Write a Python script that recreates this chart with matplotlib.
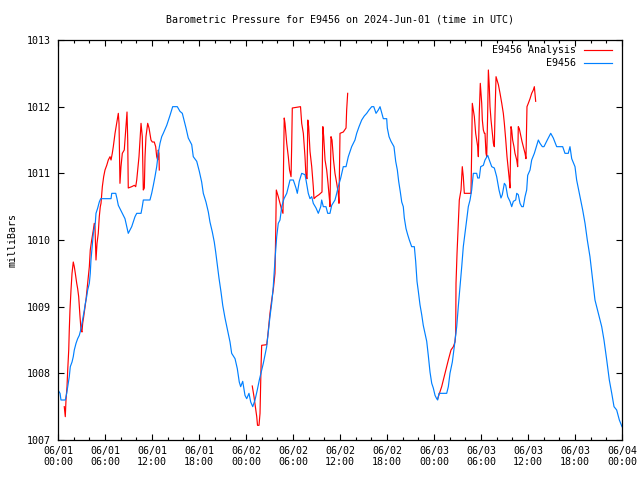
import numpy as np
import matplotlib
matplotlib.use("Agg")
import matplotlib.pyplot as plt
from matplotlib.lines import Line2D
from matplotlib.ticker import MultipleLocator

# hours since 2024-06-01 00:00 UTC
obs_hours = [0.0, 0.26, 0.38, 0.93, 1.11, 1.44, 1.57, 1.79, 1.95, 2.08, 2.3, 2.51, 2.72, 2.94, 3.06,
             3.36, 3.49, 3.66, 3.79, 4.0, 4.12, 4.21, 4.51, 4.76, 4.85, 5.07, 5.27, 5.45, 6.77, 6.86,
             7.37, 7.53, 7.7, 8.13, 8.55, 8.97, 9.19, 9.41, 9.83, 10.05, 10.6, 10.76, 10.89, 11.74,
             11.96, 12.17, 12.38, 12.6, 12.8, 13.02, 13.24, 13.44, 13.88, 14.3, 14.64, 15.23, 15.57,
             15.87, 16.34, 16.63, 17.07, 17.27, 17.71, 18.04, 18.34, 18.55, 18.89, 19.19, 19.4, 19.7,
             19.95, 20.13, 20.34, 20.55, 20.81, 21.03, 21.32, 21.61, 21.96, 22.17, 22.6, 22.89, 23.14,
             23.32, 23.58, 23.87, 24.09, 24.38, 24.6, 24.86, 25.15, 25.44, 25.7, 26.21, 26.64, 27.06,
             27.28, 27.48, 27.7, 27.92, 28.12, 28.34, 28.56, 28.85, 29.2, 29.62, 30.04, 30.38, 30.55,
             30.8, 31.11, 31.53, 31.66, 31.95, 32.17, 32.39, 32.59, 32.94, 33.23, 33.54, 33.66, 33.87,
             34.21, 34.43, 34.72, 34.94, 35.36, 35.58, 35.78, 36.09, 36.42, 36.77, 37.06, 37.49, 37.91,
             38.13, 38.43, 38.77, 39.1, 39.41, 39.7, 40.05, 40.31, 40.6, 40.89, 41.11, 41.23, 41.53,
             41.96, 42.04, 42.26, 42.51, 42.89, 43.11, 43.32, 43.49, 43.7, 43.88, 44.08, 44.21, 44.43,
             44.64, 44.85, 45.15, 45.49, 45.66, 45.83, 46.0, 46.21, 46.43, 46.63, 46.85, 47.07, 47.27,
             47.49, 47.71, 47.91, 48.13, 48.34, 48.47, 48.64, 49.62, 49.83, 50.04, 50.34, 50.59, 50.9,
             51.1, 51.32, 51.54, 51.74, 51.96, 52.17, 52.38, 52.6, 52.81, 53.02, 53.45, 53.58, 53.78,
             53.96, 54.3, 54.51, 54.86, 55.06, 55.37, 55.7, 56.0, 56.3, 56.55, 56.72, 56.98, 57.16,
             57.41, 57.7, 57.92, 58.13, 58.43, 58.56, 58.76, 58.98, 59.2, 59.4, 59.62, 59.83, 59.96,
             60.26, 60.47, 60.81, 61.11, 61.32, 61.53, 61.83, 62.04, 62.46, 62.9, 63.23, 63.66, 64.43,
             64.72, 65.14, 65.36, 65.58, 66.0, 66.21, 66.55, 66.98, 67.28, 67.57, 67.91, 68.26, 68.55,
             68.98, 69.41, 69.7, 70.05, 70.38, 70.69, 70.98, 71.32, 71.66, 72.0]
obs_mb = [1007.75, 1007.7, 1007.6, 1007.6, 1007.7, 1007.95, 1008.1, 1008.17, 1008.25, 1008.35, 1008.45,
          1008.52, 1008.57, 1008.67, 1008.75, 1008.95, 1009.05, 1009.15, 1009.25, 1009.35, 1009.5,
          1009.7, 1010.1, 1010.25, 1010.4, 1010.48, 1010.57, 1010.62, 1010.62, 1010.7, 1010.7,
          1010.62, 1010.52, 1010.42, 1010.32, 1010.1, 1010.15, 1010.2, 1010.35, 1010.4, 1010.4,
          1010.5, 1010.6, 1010.6, 1010.7, 1010.82, 1010.95, 1011.1, 1011.3, 1011.45, 1011.55,
          1011.6, 1011.72, 1011.87, 1012.0, 1012.0, 1011.93, 1011.9, 1011.68, 1011.53, 1011.43,
          1011.25, 1011.18, 1011.03, 1010.87, 1010.7, 1010.57, 1010.42, 1010.27, 1010.12, 1009.97,
          1009.82, 1009.62, 1009.43, 1009.22, 1009.02, 1008.83, 1008.67, 1008.47, 1008.3, 1008.22,
          1008.07, 1007.87, 1007.8, 1007.88, 1007.67, 1007.62, 1007.7, 1007.57, 1007.5, 1007.6,
          1007.75, 1007.9, 1008.15, 1008.4, 1008.85, 1009.05, 1009.3, 1009.7, 1010.05, 1010.25,
          1010.3, 1010.5, 1010.62, 1010.7, 1010.9, 1010.9, 1010.78, 1010.7, 1010.88, 1011.0, 1010.98,
          1010.9, 1010.7, 1010.62, 1010.65, 1010.55, 1010.48, 1010.4, 1010.5, 1010.6, 1010.5, 1010.5,
          1010.4, 1010.4, 1010.52, 1010.6, 1010.7, 1010.8, 1010.93, 1011.1, 1011.1, 1011.25, 1011.4,
          1011.5, 1011.6, 1011.7, 1011.8, 1011.86, 1011.9, 1011.95, 1012.0, 1012.0, 1011.9, 1011.95,
          1012.0, 1011.95, 1011.82, 1011.82, 1011.68, 1011.55, 1011.48, 1011.4, 1011.18, 1011.05,
          1010.88, 1010.72, 1010.57, 1010.5, 1010.33, 1010.17, 1010.08, 1010.0, 1009.9, 1009.9,
          1009.68, 1009.38, 1009.23, 1009.03, 1008.88, 1008.72, 1008.6, 1008.48, 1008.27, 1008.02,
          1007.85, 1007.78, 1007.67, 1007.62, 1007.6, 1007.7, 1007.7, 1007.8, 1008.0, 1008.17,
          1008.4, 1008.7, 1009.0, 1009.3, 1009.6, 1009.9, 1010.1, 1010.3, 1010.5, 1010.6, 1010.75,
          1011.0, 1011.0, 1010.93, 1010.93, 1011.1, 1011.12, 1011.2, 1011.27, 1011.2, 1011.1,
          1011.08, 1010.95, 1010.75, 1010.63, 1010.68, 1010.85, 1010.82, 1010.65, 1010.58, 1010.5,
          1010.58, 1010.6, 1010.7, 1010.68, 1010.55, 1010.5, 1010.5, 1010.65, 1010.75, 1010.97,
          1011.05, 1011.2, 1011.3, 1011.42, 1011.5, 1011.45, 1011.4, 1011.4, 1011.5, 1011.6,
          1011.53, 1011.4, 1011.4, 1011.3, 1011.3, 1011.4, 1011.22, 1011.1, 1010.9, 1010.7, 1010.45,
          1010.25, 1010.0, 1009.75, 1009.4, 1009.1, 1008.9, 1008.7, 1008.5, 1008.2, 1007.9, 1007.7,
          1007.5, 1007.45, 1007.3, 1007.2]

ana_hours = [0.8, 0.93, 1.02, 1.15, 1.24, 1.37, 1.44, 1.53, 1.66, 1.79, 1.95, 2.08, 2.21, 2.39, 2.51,
             2.64, 2.81, 2.94, 3.06, 3.15, 3.28, 3.45, 3.57, 3.79, 4.0, 4.12, 4.3, 4.51, 4.63, 4.72,
             4.85, 4.98, 5.14, 5.27, 5.4, 5.49, 5.66, 5.83, 6.0, 6.22, 6.42, 6.64, 6.77, 6.93, 7.06,
             7.28, 7.49, 7.7, 7.79, 7.91, 8.04, 8.21, 8.46, 8.64, 8.81, 8.9, 8.97, 9.41, 9.74, 9.92,
             10.05, 10.17, 10.34, 10.47, 10.6, 10.76, 10.89, 11.02, 11.11, 11.23, 11.45, 11.62, 11.87,
             12.04, 12.29, 12.47, 12.6, 12.72, 12.8, 12.89, 12.93,
             18.0,
             24.8, 25.02, 25.19, 25.37, 25.47, 25.66, 25.79, 25.92, 26.0, 26.64, 26.77, 26.9, 27.06,
             27.28, 27.48, 27.7, 27.79, 27.87, 28.12, 28.34, 28.56, 28.72, 28.79, 28.88, 28.98, 29.2,
             29.4, 29.56, 29.75, 29.83, 29.91, 30.96, 31.11, 31.32, 31.53, 31.66, 31.79, 31.89, 32.0,
             32.17, 32.39, 32.59, 32.68, 32.94, 33.32, 33.7, 33.81, 33.92, 34.09, 34.3, 34.47, 34.66,
             34.72, 34.85, 34.98, 35.17, 35.36, 35.58, 35.78, 35.87, 36.0, 36.42, 36.77, 36.85, 36.98,
             42.0,
             48.47, 48.98, 49.4, 49.83, 50.17, 50.47, 50.68, 50.77, 50.81, 50.94, 51.1, 51.23, 51.45,
             51.61, 51.74, 51.87, 52.72, 52.81, 52.89, 53.02, 53.15, 53.32, 53.45, 53.58, 53.66, 53.78,
             53.91, 54.09, 54.17, 54.3, 54.43, 54.51, 54.64, 54.73, 54.86, 54.94, 55.06, 55.15, 55.28,
             55.45, 55.58, 55.7, 55.79, 55.92, 56.05, 56.22, 56.43, 56.65, 56.85, 56.98, 57.16, 57.32,
             57.49, 57.62, 57.7, 57.83, 57.92, 58.04, 58.21, 58.34, 58.56, 58.68, 58.76, 58.89, 59.11,
             59.23, 59.4, 59.62, 59.74, 59.87, 60.04, 60.26, 60.47, 60.68, 60.81, 60.89, 60.98]
ana_mb = [1007.5, 1007.35, 1007.6, 1007.8, 1008.05, 1008.35, 1008.65, 1008.95, 1009.25, 1009.5,
          1009.67, 1009.6, 1009.5, 1009.35, 1009.27, 1009.15, 1008.85, 1008.65, 1008.62, 1008.75,
          1008.85, 1009.0, 1009.1, 1009.35, 1009.6, 1009.85, 1010.0, 1010.15, 1010.25, 1010.2,
          1009.7, 1009.95, 1010.1, 1010.35, 1010.5, 1010.55, 1010.8, 1010.95, 1011.05, 1011.12,
          1011.2, 1011.25, 1011.2, 1011.3, 1011.4, 1011.6, 1011.75, 1011.9, 1011.75, 1010.85,
          1011.1, 1011.3, 1011.35, 1011.65, 1011.92, 1011.5, 1010.78, 1010.8, 1010.82, 1010.8,
          1010.9, 1011.05, 1011.25, 1011.5, 1011.75, 1011.55, 1010.75, 1010.78, 1011.25, 1011.55,
          1011.75, 1011.68, 1011.5, 1011.47, 1011.47, 1011.4, 1011.25, 1011.2, 1011.35, 1011.3,
          1011.05,
          np.nan,
          1007.81, 1007.65, 1007.5, 1007.35, 1007.22, 1007.22, 1007.4, 1008.1, 1008.42, 1008.43,
          1008.55, 1008.7, 1008.9, 1009.1, 1009.25, 1009.5, 1010.1, 1010.75, 1010.65, 1010.55,
          1010.45, 1010.4, 1011.1, 1011.83, 1011.75, 1011.45, 1011.25, 1011.05, 1010.95, 1011.4,
          1011.98, 1012.0, 1011.75, 1011.6, 1011.25, 1010.95, 1010.92, 1011.8, 1011.7, 1011.33,
          1011.1, 1010.8, 1010.62, 1010.65, 1010.68, 1010.72, 1011.7, 1011.55, 1011.2, 1011.05,
          1010.85, 1010.6, 1010.5, 1011.55, 1011.5, 1011.2, 1011.0, 1010.85, 1010.7, 1010.55,
          1011.6, 1011.62, 1011.68, 1011.95, 1012.2,
          np.nan,
          1007.62, 1007.8, 1008.0, 1008.2, 1008.35, 1008.4, 1008.47, 1008.6, 1009.35, 1009.8,
          1010.25, 1010.6, 1010.75, 1011.1, 1010.95, 1010.7, 1010.7, 1011.35, 1012.05, 1011.95,
          1011.85, 1011.6, 1011.5, 1011.4, 1011.25, 1011.9, 1012.35, 1012.05, 1011.8, 1011.65,
          1011.6, 1011.6, 1011.3, 1011.25, 1011.95, 1012.55, 1012.3, 1012.0, 1011.8, 1011.6,
          1011.45, 1011.4, 1011.9, 1012.45, 1012.4, 1012.33, 1012.2, 1012.05, 1011.9, 1011.75,
          1011.5, 1011.25, 1011.05, 1010.9, 1010.78, 1011.7, 1011.65, 1011.5, 1011.4, 1011.3,
          1011.2, 1011.1, 1011.7, 1011.67, 1011.55, 1011.48, 1011.4, 1011.3, 1011.22, 1012.0,
          1012.05, 1012.12, 1012.2, 1012.25, 1012.3, 1012.2, 1012.08]

tick_hours = [0, 6, 12, 18, 24, 30, 36, 42, 48, 54, 60, 66, 72]
tick_labels = ["06/01\n00:00", "06/01\n06:00", "06/01\n12:00", "06/01\n18:00",
               "06/02\n00:00", "06/02\n06:00", "06/02\n12:00", "06/02\n18:00",
               "06/03\n00:00", "06/03\n06:00", "06/03\n12:00", "06/03\n18:00",
               "06/04\n00:00"]
y_ticks = [1007, 1008, 1009, 1010, 1011, 1012, 1013]

title = "Barometric Pressure for E9456 on 2024-Jun-01 (time in UTC)"
ylabel = "milliBars"
series_names = ["E9456 Analysis", "E9456"]
RED = "#ff0000"
BLUE = "#0080ff"

plt.rcParams['font.family'] = ['DejaVu Sans Mono']
FS = 7.2
LW = 0.85

fig = plt.figure(figsize=(6.4, 4.8), dpi=100)
ax = fig.add_axes([58 / 640, 40 / 480, (622 - 58) / 640, 400 / 480])

ax.plot(ana_hours, ana_mb, color=RED, lw=LW)
ax.plot(obs_hours, obs_mb, color=BLUE, lw=LW)

ax.set_xlim(0, 72)
ax.set_ylim(1007, 1013)
ax.set_xticks(tick_hours)
ax.set_xticklabels(tick_labels, fontsize=FS, linespacing=1.2)
ax.xaxis.set_minor_locator(MultipleLocator(2))
ax.set_yticks(y_ticks)
ax.set_yticklabels([str(v) for v in y_ticks], fontsize=FS)
ax.tick_params(which='both', direction='in', top=True, right=True, width=0.8, color='black')
ax.tick_params(which='major', length=4, pad=4)
ax.tick_params(which='minor', length=2)
ax.tick_params(axis='y', pad=5)
for s in ax.spines.values():
    s.set_linewidth(0.9)

fig.text(340 / 640, 1 - 19 / 480, title, ha='center', va='center', fontsize=FS)
fig.text(13 / 640, 0.5, ylabel, rotation=90, ha='center', va='center', fontsize=FS)

# legend (gnuplot style: right-aligned text, sample line to the right)
for i, (name, col) in enumerate(zip(series_names, [RED, BLUE])):
    ypix = 50 + 13 * i
    yf = 1 - ypix / 480
    fig.text(576 / 640, yf, name, ha='right', va='center', fontsize=FS)
    fig.add_artist(Line2D([584 / 640, 612 / 640], [yf, yf], color=col, lw=LW,
                          transform=fig.transFigure))

fig.savefig("out.png", dpi=100)
